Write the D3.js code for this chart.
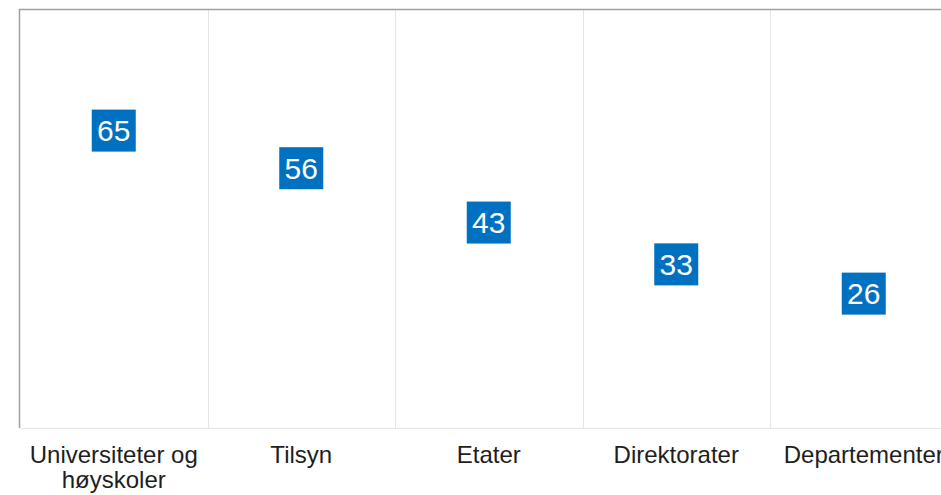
<!DOCTYPE html>
<html>
<head>
<meta charset="utf-8">
<script src="https://cdn.jsdelivr.net/npm/d3@7"></script>
<style>
  body { margin: 0; background: #fff; }
  svg { display: block; font-family: "Liberation Sans", Arial, sans-serif; }
</style>
</head>
<body>
<svg id="chart" width="941" height="495"></svg>
<script>
// data
var categories = ["Universiteter og høyskoler", "Tilsyn", "Etater", "Direktorater", "Departementer"];
var values = [65, 56, 43, 33, 26];
var yDomain = [0, 100];

var svg = d3.select("#chart");
// plot box (note: "top" is taken by window.top, so use other names)
var plotLeft = 20, plotTop = 10, plotBottom = 428, plotRight = 957.5;

var x = d3.scaleBand()
    .domain(categories)
    .range([plotLeft, plotRight])
    .padding(0);

var y = d3.scaleLinear()
    .domain(yDomain)
    .range([plotBottom, plotTop]);

// vertical gridlines between categories
svg.append("g")
    .selectAll("line")
    .data(categories.slice(1))
    .enter()
    .append("line")
    .attr("x1", function (d) { return Math.round(x(d)) + 0.5; })
    .attr("x2", function (d) { return Math.round(x(d)) + 0.5; })
    .attr("y1", plotTop)
    .attr("y2", plotBottom)
    .attr("stroke", "#e6e6e6")
    .attr("stroke-width", 1);

// bottom line
svg.append("line")
    .attr("x1", plotLeft).attr("x2", plotRight)
    .attr("y1", plotBottom + 0.5).attr("y2", plotBottom + 0.5)
    .attr("stroke", "#e6e6e6");

// plot border (left + top)
svg.append("path")
    .attr("d", "M" + (plotLeft - 0.5) + "," + plotBottom + "V" + (plotTop - 0.5) + "H" + plotRight)
    .attr("fill", "none")
    .attr("stroke", "#a0a0a0")
    .attr("stroke-width", 1.5);

// data labels
var labels = svg.append("g")
    .selectAll("g")
    .data(values)
    .enter()
    .append("g")
    .attr("transform", function (d, i) {
        return "translate(" + (x(categories[i]) + x.bandwidth() / 2) + "," + (y(d) - 25.7) + ")";
    });

labels.append("rect")
    .attr("x", -22)
    .attr("y", -21)
    .attr("width", 44)
    .attr("height", 42)
    .attr("fill", "#0070c0");

labels.append("text")
    .attr("text-anchor", "middle")
    .attr("dy", "0.36em")
    .attr("fill", "#fff")
    .style("font-size", "30px")
    .text(function (d) { return d; });

// x axis
var xAxis = svg.append("g")
    .attr("transform", "translate(0," + plotBottom + ")")
    .call(d3.axisBottom(x).tickSize(0).tickPadding(0));

xAxis.select(".domain").remove();

xAxis.selectAll("text")
    .attr("fill", "#1e1e1e")
    .style("font-size", "24px")
    .style("font-family", "'Liberation Sans', Arial, sans-serif")
    .attr("y", 35)
    .attr("dy", 0)
    .call(wrap, 180);

function wrap(texts, width) {
    texts.each(function () {
        var text = d3.select(this);
        var words = text.text().split(/\s+/);
        var yy = text.attr("y");
        var line = [];
        var lineNo = 0;
        text.text(null);
        var tspan = text.append("tspan").attr("x", 0).attr("y", yy);
        words.forEach(function (w) {
            line.push(w);
            tspan.text(line.join(" "));
            if (tspan.node().getComputedTextLength() > width && line.length > 1) {
                line.pop();
                tspan.text(line.join(" "));
                line = [w];
                lineNo++;
                tspan = text.append("tspan").attr("x", 0).attr("y", +yy + lineNo * 25).text(w);
            }
        });
    });
}
</script>
</body>
</html>
